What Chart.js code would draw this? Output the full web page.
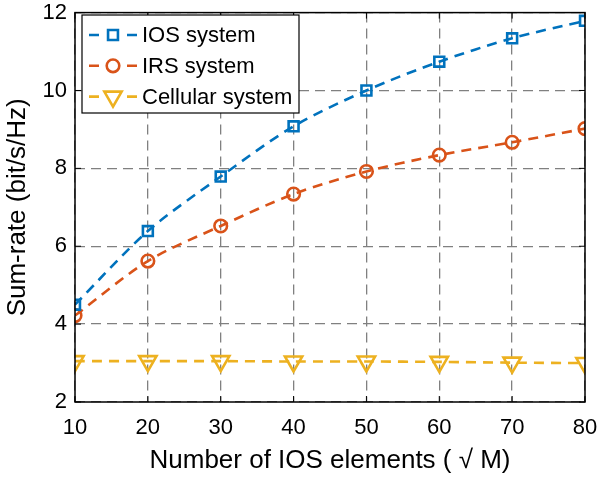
<!DOCTYPE html>
<html>
<head>
<meta charset="utf-8">
<script src="https://cdn.jsdelivr.net/npm/chart.js@4/dist/chart.umd.min.js"></script>
<style>
  html, body { margin: 0; padding: 0; background: #fff; }
  #wrap { width: 600px; height: 480px; position: relative; }
</style>
</head>
<body>
<div id="wrap"><canvas id="rateChart"></canvas></div>
<script>
const elements = [10, 20, 30, 40, 50, 60, 70, 80];
const iosRate = [4.5, 6.39, 7.79, 9.08, 10.0, 10.74, 11.34, 11.79];
const irsRate = [4.22, 5.62, 6.52, 7.34, 7.92, 8.34, 8.67, 9.02];
const cellularRate = [3.05, 3.05, 3.05, 3.04, 3.04, 3.03, 3.01, 3.0];
const yTicks = [2, 4, 6, 8, 10, 12];

const FONT = "'Liberation Sans', Arial, sans-serif";
const BLUE = '#0072BD', ORANGE = '#D95319', YELLOW = '#EDB120';
const DASH = [10, 7];

const series = (label, data, color, style, radius, rotation) => ({
    label: label,
    data: elements.map((x, i) => ({ x: x, y: data[i] })),
    borderColor: color,
    backgroundColor: 'rgba(0,0,0,0)',
    borderWidth: 2.6,
    borderDash: DASH,
    tension: 0.3,
    pointStyle: style,
    pointRadius: radius,
    pointBorderWidth: 2.6,
    pointBorderColor: color,
    pointBackgroundColor: 'rgba(0,0,0,0)',
    pointRotation: rotation
});

const datasets = [
    series('IOS system', iosRate, BLUE, 'rect', 7, 0),
    series('IRS system', irsRate, ORANGE, 'circle', 6.3, 0),
    series('Cellular system', cellularRate, YELLOW, 'triangle', 10, 180)
];

// box, inward ticks and the inset legend
const framePlugin = {
    id: 'frame',
    afterDatasetsDraw(chart) {
        const { ctx, chartArea: a, scales } = chart;
        ctx.save();
        ctx.strokeStyle = '#000';
        ctx.lineWidth = 1.5;
        ctx.strokeRect(a.left, a.top, a.right - a.left, a.bottom - a.top);

        ctx.lineWidth = 1;
        ctx.beginPath();
        elements.forEach(v => {
            const x = scales.x.getPixelForValue(v);
            ctx.moveTo(x, a.bottom); ctx.lineTo(x, a.bottom - 6);
            ctx.moveTo(x, a.top); ctx.lineTo(x, a.top + 6);
        });
        yTicks.forEach(v => {
            const y = scales.y.getPixelForValue(v);
            ctx.moveTo(a.left, y); ctx.lineTo(a.left + 6, y);
            ctx.moveTo(a.right, y); ctx.lineTo(a.right - 6, y);
        });
        ctx.stroke();

        // legend box
        const lx = 82, ly = 15, lw = 217, lh = 98;
        ctx.fillStyle = '#fff';
        ctx.fillRect(lx, ly, lw, lh);
        ctx.lineWidth = 1.2;
        ctx.strokeRect(lx, ly, lw, lh);

        chart.data.datasets.forEach((ds, i) => {
            const y = 35 + i * 30.8;
            ctx.strokeStyle = ds.borderColor;
            ctx.fillStyle = 'rgba(0,0,0,0)';
            ctx.lineWidth = ds.borderWidth;
            ctx.beginPath();
            ctx.moveTo(89, y); ctx.lineTo(99, y);
            ctx.moveTo(127, y); ctx.lineTo(137, y);
            ctx.stroke();
            Chart.helpers.drawPoint(ctx, {
                pointStyle: ds.pointStyle,
                radius: ds.pointRadius,
                rotation: ds.pointRotation,
                borderWidth: ds.pointBorderWidth
            }, 113, y);
            ctx.fillStyle = '#000';
            ctx.font = '22px ' + FONT;
            ctx.textBaseline = 'middle';
            ctx.fillText(ds.label, 142, y + 1);
        });
        ctx.restore();
    }
};

// keep edge tick labels from pushing the plot area inwards
const fixX = s => { s.height = 78; s.paddingLeft = 0; s.paddingRight = 0; };
const fixY = s => { s.width = 75; s.paddingTop = 0; s.paddingBottom = 0; };

new Chart(document.getElementById('rateChart').getContext('2d'), {
    type: 'line',
    data: { datasets: datasets },
    options: {
        responsive: true,
        maintainAspectRatio: false,
        animation: false,
        layout: { padding: { top: 10, right: 15, left: 0, bottom: 0 } },
        plugins: { legend: { display: false }, tooltip: { enabled: false } },
        scales: {
            x: {
                type: 'linear',
                min: 10,
                max: 80,
                afterFit: fixX,
                afterBuildTicks: s => { s.ticks = elements.map(v => ({ value: v })); },
                grid: { color: '#808080', lineWidth: 1.3, drawTicks: false },
                border: { display: false, dash: [10, 6] },
                ticks: { color: '#000', padding: 13, font: { family: FONT, size: 22 } },
                title: {
                    display: true,
                    text: 'Number of IOS elements ( \u221A M)',
                    color: '#000',
                    padding: { top: 0 },
                    font: { family: FONT, size: 26 }
                }
            },
            y: {
                min: 2,
                max: 12,
                afterFit: fixY,
                afterBuildTicks: s => { s.ticks = yTicks.map(v => ({ value: v })); },
                grid: { color: '#808080', lineWidth: 1.3, drawTicks: false },
                border: { display: false, dash: [10, 6] },
                ticks: { color: '#000', padding: 8, font: { family: FONT, size: 22 } },
                title: {
                    display: true,
                    text: 'Sum-rate (bit/s/Hz)',
                    color: '#000',
                    padding: { top: 2, bottom: 4 },
                    font: { family: FONT, size: 26 }
                }
            }
        }
    },
    plugins: [framePlugin]
});
</script>
</body>
</html>
